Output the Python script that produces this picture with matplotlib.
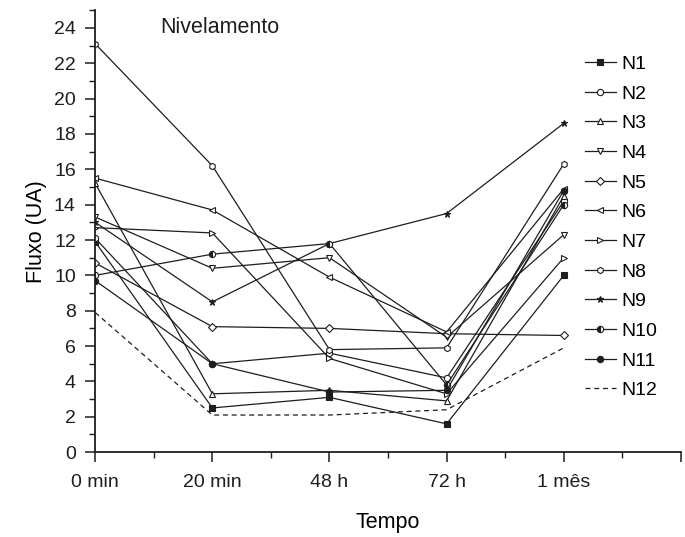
import matplotlib.pyplot as plt
from matplotlib.ticker import MultipleLocator

plt.rcParams['font.family'] = ['Liberation Sans', 'DejaVu Sans']

# dados ------------------------------------------------------------
tempos = ['0 min', '20 min', '48 h', '72 h', '1 mês']

N1 = [11.9, 2.5, 3.1, 1.6, 10.0]
N2 = [12.1, 5.0, 5.6, 4.2, 14.2]
N3 = [15.2, 3.3, 3.5, 2.9, 14.5]
N4 = [13.3, 10.4, 11.0, 6.5, 12.3]
N5 = [10.7, 7.1, 7.0, 6.7, 6.6]
N6 = [15.5, 13.7, 9.9, 6.8, 14.9]
N7 = [12.7, 12.4, 5.3, 3.3, 11.0]
N8 = [23.1, 16.2, 5.8, 5.9, 16.3]
N9 = [13.0, 8.5, 11.8, 13.5, 18.6]
N10 = [10.0, 11.2, 11.8, 3.8, 14.0]
N11 = [9.7, 5.0, 3.4, 3.5, 14.8]
N12 = [7.9, 2.1, 2.1, 2.4, 5.9]

series = [N1, N2, N3, N4, N5, N6, N7, N8, N9, N10, N11, N12]
nomes = ['N%d' % i for i in range(1, 13)]

# estilos (simbolos tipo Origin)
marcadores = ['s', 'o', '^', 'v', 'D', '<', '>', 'h', '*', 'o', 'o', None]
preenchido = [True, False, False, False, False, False, False, False, True, 'left', True, False]

cor = '#1e1e1e'

fig = plt.figure(figsize=(6.85, 5.37), dpi=100)
ax = fig.add_axes([0.139, 0.158, 0.855, 0.823])

x = list(range(len(tempos)))
for s, nome, m, f in zip(series, nomes, marcadores, preenchido):
    estilo = (0, (4, 3)) if m is None else '-'
    kw = dict(color=cor, lw=0.9, ls=estilo, label=nome)
    if m is not None:
        kw.update(marker=m, markersize=4.5, markeredgecolor=cor, markeredgewidth=0.8)
        if f is True:
            kw.update(markerfacecolor=cor)
        elif f == 'left':
            kw.update(fillstyle='left', markerfacecolor=cor, markerfacecoloralt='white')
        else:
            kw.update(markerfacecolor='white')
    ax.plot(x, s, **kw)

ax.set_xlim(0, 5)
ax.set_ylim(0, 25)
ax.set_xticks(range(6))
ax.set_xticklabels(tempos + [''])
ax.xaxis.set_minor_locator(MultipleLocator(0.5))
ax.set_yticks(range(0, 25, 2))
ax.yaxis.set_minor_locator(MultipleLocator(1))

for lado in ['top', 'right']:
    ax.spines[lado].set_visible(False)
for lado in ['left', 'bottom']:
    ax.spines[lado].set_color(cor)
    ax.spines[lado].set_linewidth(1.3)

ax.tick_params(which='major', direction='out', length=7, width=1.1, colors=cor, labelsize=14)
ax.tick_params(which='minor', direction='out', length=4, width=1.0, colors=cor)
ax.tick_params(axis='y', which='major', pad=7)
ax.tick_params(axis='x', which='major', pad=9)

ax.set_xlabel('Tempo', fontsize=15.5, labelpad=15)
ax.set_ylabel('Fluxo (UA)', fontsize=15.5, labelpad=5)

ax.text(0.555, 24.0, 'Nivelamento', fontsize=15.5, ha='left', va='center', color=cor)

leg = ax.legend(loc='upper left', bbox_to_anchor=(0.836, 0.898), frameon=False,
                fontsize=14, handlelength=1.6, labelspacing=0.62,
                handletextpad=0.3, borderaxespad=0, borderpad=0)

fig.savefig('out.png', dpi=100)
